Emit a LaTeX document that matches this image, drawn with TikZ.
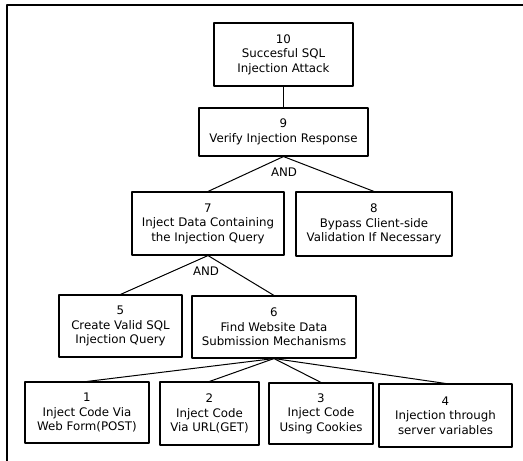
\documentclass[tikz,border=0pt]{standalone}
\usepackage{fontspec}
\setmainfont{DejaVu Sans}
\begin{document}
\begin{tikzpicture}[x=1pt, y=-1pt, font=\fontsize{11.8}{14.5}\selectfont, line join=round, line cap=round]
			\tikzset{buoc/.style={draw, line width=1.1pt, align=center, inner sep=0pt},
				noi/.style={line width=1pt}}
			\useasboundingbox (0,0) rectangle (523,461);
			\draw[line width=1.2pt] (7,461)--(7,5)--(523,5);
			\node[buoc, minimum width=139pt, minimum height=63pt] (b10) at (283.5,54.5) {10\\Succesful SQL\\Injection Attack};
			\node[buoc, minimum width=169pt, minimum height=48pt] (b9) at (283.5,132) {9\\Verify Injection Response};
			\node[buoc, minimum width=152pt, minimum height=63pt] (b7) at (208,223.5) {7\\Inject Data Containing\\the Injection Query};
			\node[buoc, minimum width=156pt, minimum height=64pt] (b8) at (374,224) {8\\Bypass Client-side\\Validation If Necessary};
			\node[buoc, minimum width=123pt, minimum height=62pt] (b5) at (120.5,326) {5\\Create Valid SQL\\Injection Query};
			\node[buoc, minimum width=164pt, minimum height=62pt] (b6) at (274,327) {6\\Find Website Data\\Submission Mechanisms};
			\node[buoc, minimum width=124pt, minimum height=61pt] (b1) at (87,412.5) {1\\Inject Code Via\\Web Form(POST)};
			\node[buoc, minimum width=99pt, minimum height=63pt] (b2) at (209.5,413.5) {2\\Inject Code\\Via URL(GET)};
			\node[buoc, minimum width=104pt, minimum height=61pt] (b3) at (321,413.5) {3\\Inject Code\\Using Cookies};
			\node[buoc, minimum width=133pt, minimum height=63pt] (b4) at (445.5,415.5) {4\\Injection through\\server variables};
			\node (and9) at (284,172) {AND};
			\node (and7) at (206,271) {AND};
			\draw[noi] (b10.south)--(b9.north);
			\draw[noi] (b9.south)--(b7.north);
			\draw[noi] (b9.south)--(b8.north);
			\draw[noi] (b7.south)--(b5.north);
			\draw[noi] (b7.south)--(b6.north);
			\foreach \i in {1,2,3,4} \draw[noi] (b6.south)--(b\i.north);
		\end{tikzpicture}
\end{document}
